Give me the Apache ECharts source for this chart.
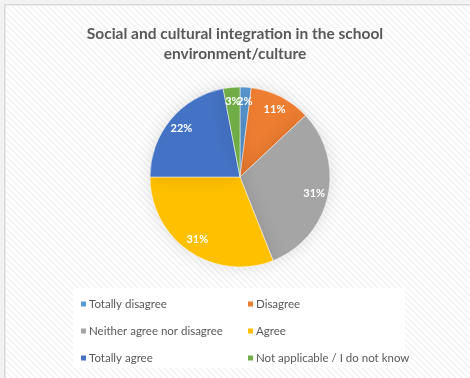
<!DOCTYPE html>
<html><head><meta charset="utf-8">
<script src="https://cdn.jsdelivr.net/npm/echarts@6/dist/echarts.min.js"></script>
<style>html,body{margin:0;padding:0;background:#fff}#c{width:470px;height:378px}</style>
</head><body><div id="c"></div>
<script>
const categories = ['Totally disagree','Disagree','Neither agree nor disagree','Agree','Totally agree','Not applicable / I do not know'];
const values = [2, 11, 31, 31, 22, 3];
const colors = ['#5B9BD5','#ED7D31','#A5A5A5','#FFC000','#4472C4','#70AD47'];
const titleText = 'Social and cultural integration in the school\nenvironment/culture';

// diagonal stripe pattern
const pc = document.createElement('canvas');
pc.width = 6; pc.height = 6;
const g = pc.getContext('2d');
g.fillStyle = '#ffffff'; g.fillRect(0,0,6,6);
g.strokeStyle = '#f2f2f2'; g.lineWidth = 1.5;
g.beginPath();
g.moveTo(-1,-1); g.lineTo(7,7);
g.moveTo(-1,5); g.lineTo(1,7);
g.moveTo(5,-1); g.lineTo(7,1);
g.stroke();

const data = categories.map((n,i)=>({name:n, value:values[i], itemStyle:{color:colors[i]}}));
const fontFam = 'Lato, "Open Sans", sans-serif';
const col1 = [categories[0], categories[2], categories[4]];
const col2 = [categories[1], categories[3], categories[5]];
const legendCommon = {
  orient:'vertical', itemWidth:7, itemHeight:7, itemGap:15, icon:'rect',
  textStyle:{color:'#595959', fontSize:11.5, fontFamily:fontFam, padding:[0,0,0,-3]}, top:298, padding:0
};
const chart = echarts.init(document.getElementById('c'), null, {renderer:'canvas'});
chart.setOption({
  backgroundColor:{image:pc, repeat:'repeat'},
  animation:false,
  title:{text:titleText, left:'center', top:19,
    textStyle:{color:'#595959', fontSize:15.5, fontWeight:'bold', fontFamily:fontFam, lineHeight:20}},
  graphic:[
    {type:'rect', left:0, top:0, shape:{width:470, height:4}, style:{fill:'#f2f2f2'}, z:-1},
    {type:'rect', left:0, top:0, shape:{width:4, height:378}, style:{fill:'#f2f2f2'}, z:-1},
    {type:'rect', left:4, top:4, shape:{width:470, height:1.5}, style:{fill:'#d9d9d9'}, z:-1},
    {type:'rect', left:4, top:4, shape:{width:1.5, height:378}, style:{fill:'#d9d9d9'}, z:-1},
    {type:'rect', left:73, top:288, shape:{width:332, height:80}, style:{fill:'#ffffff'}, z:-1}
  ],
  legend:[
    Object.assign({left:79, data:col1.map(n=>({name:n}))}, legendCommon),
    Object.assign({left:246, data:col2.map(n=>({name:n}))}, legendCommon)
  ],
  series:[
    {type:'pie', center:[240,177], radius:[0,90], startAngle:90, clockwise:true,
     data:data, label:{show:false}, labelLine:{show:false},
     itemStyle:{borderColor:'#ffffff', borderWidth:0.5, shadowBlur:18, shadowColor:'rgba(0,0,0,0.12)'},
     emphasis:{disabled:true}},
    {type:'pie', center:[240,177], radius:[56,90], startAngle:90, clockwise:true, silent:true,
     avoidLabelOverlap:false,
     data:categories.map((n,i)=>({name:n, value:values[i]})),
     itemStyle:{color:'rgba(0,0,0,0)'},
     label:{show:true, position:'inside', formatter:'{c}%', color:'#ffffff', fontSize:11, fontWeight:'bold', fontFamily:fontFam},
     labelLayout:{hideOverlap:false},
     labelLine:{show:false}, emphasis:{disabled:true}, z:3}
  ]
});
</script></body></html>
